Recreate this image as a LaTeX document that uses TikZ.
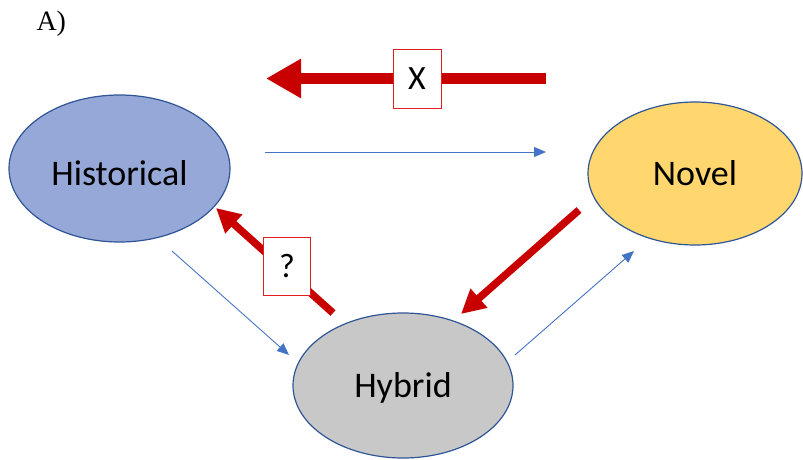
\documentclass[tikz,border=0pt]{standalone}
\usepackage{fontspec}
\setmainfont{Carlito}
\newfontfamily\serifA{Liberation Serif}
\usetikzlibrary{shapes.geometric,arrows.meta}
\definecolor{darkred}{HTML}{C80000}
\definecolor{boxred}{HTML}{E02020}
\definecolor{lineblue}{HTML}{4472C4}
\definecolor{edgeblue}{HTML}{2F5597}
\definecolor{histfill}{HTML}{96A8D8}
\definecolor{novelfill}{HTML}{FFD76E}
\definecolor{hybfill}{HTML}{C8C8C8}
\tikzset{
  state/.style={ellipse, draw=edgeblue, line width=1.2pt, inner sep=0pt,
    font=\fontsize{36}{42}\selectfont, text depth=0pt},
  thinarrow/.style={draw=lineblue, line width=0.9pt,
    -{Triangle[length=12pt,width=10pt]}, color=lineblue},
  redarrow/.style={draw=darkred, line width=7.5pt,
    -{Triangle[length=24pt,width=24pt]}, color=darkred},
  bigred/.style={draw=darkred, line width=11pt,
    -{Triangle[length=35pt,width=37pt]}, color=darkred},
  markbox/.style={draw=boxred, line width=1pt, fill=white, minimum width=48pt,
    minimum height=58pt, inner sep=0pt, font=\fontsize{34}{40}\selectfont}
}
\begin{document}
\begin{tikzpicture}[x=1pt,y=-1pt]
\useasboundingbox (0,0) rectangle (803,460);
\node[anchor=base west, font=\serifA\fontsize{28}{33}\selectfont] (lab) at (33,31) {A)};
\node[state, fill=histfill, minimum width=221pt, minimum height=147pt, text height=33pt] (hist) at (119.5,168.5) {Historical};
\node[state, fill=novelfill, minimum width=214pt, minimum height=143pt, text height=23pt] (novel) at (695,173.5) {Novel};
\node[state, fill=hybfill, minimum width=220pt, minimum height=145pt, text height=23pt] (hyb) at (403,385.5) {Hybrid};
% connector end points
\coordinate (t1) at (546,78.5);
\coordinate (t2) at (266,78.5);
\coordinate (b1) at (265,152);
\coordinate (b2) at (546,152);
\coordinate (hh1) at (172,251);
\coordinate (hh2) at (289,355);
\coordinate (hn1) at (515,355);
\coordinate (hn2) at (634,251);
\coordinate (nh1) at (579,210);
\coordinate (nh2) at (461,314);
\coordinate (q1) at (333,313);
\coordinate (q2) at (216,208);
\draw[bigred] (t1) -- (t2);
\draw[thinarrow] (b1) -- (b2);
\draw[thinarrow] (hh1) -- (hh2);
\draw[thinarrow] (hn1) -- (hn2);
\draw[redarrow] (nh1) -- (nh2);
\draw[redarrow] (q1) -- (q2);
\node[markbox] (xbox) at (417,79) {X};
\node[markbox, minimum width=47pt] (qbox) at (287,266) {?};
\end{tikzpicture}
\end{document}
